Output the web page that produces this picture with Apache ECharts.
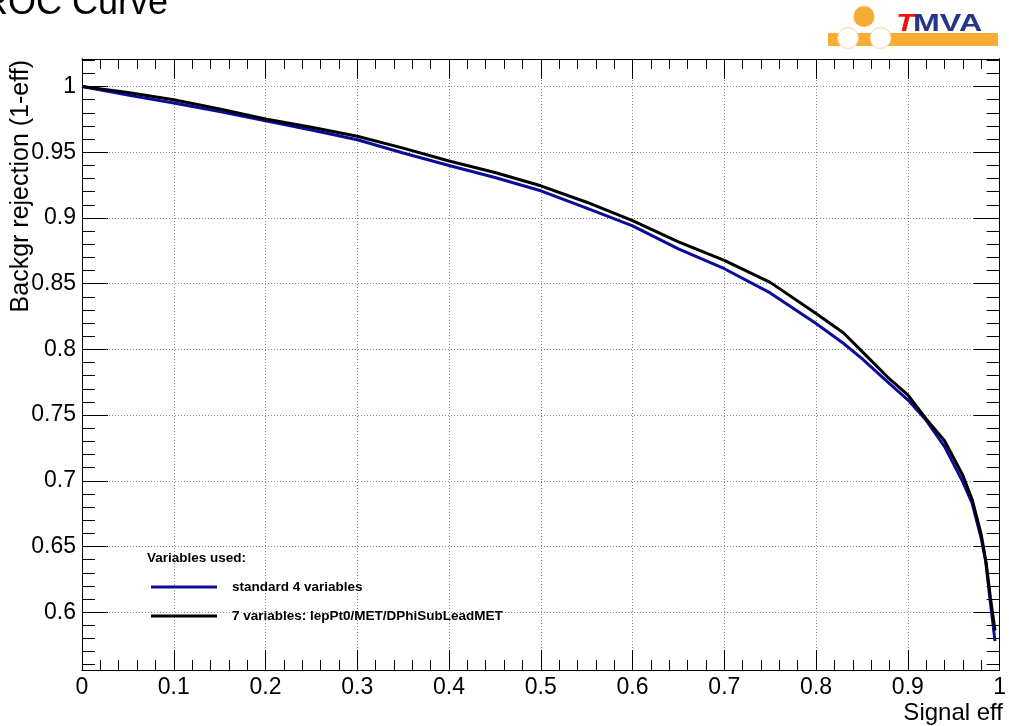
<!DOCTYPE html>
<html>
<head>
<meta charset="utf-8">
<script src="https://cdn.jsdelivr.net/npm/echarts@6/dist/echarts.min.js"></script>
<style>
  html, body { margin: 0; padding: 0; background: #fff; }
  #chart { width: 1009px; height: 726px; }
</style>
</head>
<body>
<div id="chart"></div>
<script>
// ---- data ----
const signalEff = [0, 0.05, 0.1, 0.15, 0.2, 0.25, 0.3, 0.35, 0.4, 0.45, 0.5, 0.55, 0.6, 0.65, 0.7, 0.75, 0.8, 0.83, 0.85, 0.88, 0.9, 0.92, 0.94, 0.96, 0.97, 0.98, 0.985, 0.99, 0.995];
const rejStandard4 = [1.0, 0.9935, 0.9875, 0.981, 0.974, 0.967, 0.9595, 0.9495, 0.940, 0.9308, 0.9207, 0.9075, 0.894, 0.8765, 0.8614, 0.843, 0.8197, 0.8045, 0.793, 0.774, 0.7616, 0.746, 0.726, 0.699, 0.683, 0.656, 0.638, 0.607, 0.578];
const rej7Vars = [1.0, 0.9955, 0.990, 0.983, 0.9754, 0.969, 0.9622, 0.9532, 0.9434, 0.9346, 0.9245, 0.912, 0.898, 0.8818, 0.8677, 0.851, 0.8273, 0.8125, 0.7985, 0.7775, 0.7654, 0.747, 0.7305, 0.704, 0.686, 0.659, 0.639, 0.611, 0.586];
const seriesNames = ['standard 4 variables', '7 variables: lepPt0/MET/DPhiSubLeadMET'];
const yMajorTicks = [0.6, 0.65, 0.7, 0.75, 0.8, 0.85, 0.9, 0.95, 1.0];
const yMinorTicks = [0.56, 0.57, 0.58, 0.59, 0.6, 0.61, 0.62, 0.63, 0.64, 0.65, 0.66, 0.67, 0.68, 0.69, 0.7, 0.71, 0.72, 0.73, 0.74, 0.75, 0.76, 0.77, 0.78, 0.79, 0.8, 0.81, 0.82, 0.83, 0.84, 0.85, 0.86, 0.87, 0.88, 0.89, 0.9, 0.91, 0.92, 0.93, 0.94, 0.95, 0.96, 0.97, 0.98, 0.99, 1.0, 1.01, 1.02];
const titleText = 'ROC Curve';
const xTitle = 'Signal eff';
const yTitle = 'Backgr rejection (1-eff)';
const legendHeader = 'Variables used:';

const FONT = 'Liberation Sans, Arial, Helvetica, sans-serif';
const Y_MIN = 0.556, Y_MAX = 1.021;

function pairs(xs, ys) { return xs.map((x, i) => [x, ys[i]]); }
function fmt(v) { return String(+(+v).toFixed(2)); }

const gridLine = { show: true, lineStyle: { color: '#888', type: [1, 2], width: 1 } };
const axisLineBlack = { show: true, lineStyle: { color: '#000', width: 1 } };

function yAxisCfg(pos, major, withLabels) {
  return {
    type: 'value', position: pos, min: Y_MIN, max: Y_MAX,
    axisLine: axisLineBlack,
    axisTick: { show: true, inside: true, length: major ? 26 : 13,
      customValues: major ? yMajorTicks : yMinorTicks,
      lineStyle: { color: '#000', width: 1 } },
    axisLabel: withLabels ? { show: true, customValues: yMajorTicks, formatter: fmt,
      fontSize: 23, fontFamily: FONT, color: '#000', margin: 6 } : { show: false },
    splitLine: (withLabels ? gridLine : { show: false })
  };
}

function xAxisCfg(pos, withLabels) {
  return {
    type: 'value', position: pos, min: 0, max: 1, interval: 0.1,
    axisLine: axisLineBlack,
    axisTick: { show: true, inside: true, length: 20, lineStyle: { color: '#000', width: 1 } },
    minorTick: { show: true, splitNumber: 5, length: 10, lineStyle: { color: '#000', width: 1 } },
    axisLabel: withLabels ? { show: true, formatter: fmt, fontSize: 23, fontFamily: FONT, color: '#000', margin: 6 } : { show: false },
    splitLine: withLabels ? gridLine : { show: false }
  };
}

const chart = echarts.init(document.getElementById('chart'), null, { renderer: 'canvas' });
chart.setOption({
  backgroundColor: '#fff',
  animation: false,
  grid: { left: 82, right: 6, top: 59, bottom: 56, containLabel: false },
  xAxis: [xAxisCfg('bottom', true), xAxisCfg('top', false)],
  yAxis: [yAxisCfg('left', true, true), yAxisCfg('left', false, false),
          yAxisCfg('right', true, false), yAxisCfg('right', false, false)],
  legend: {
    orient: 'vertical', left: 151, top: 580, padding: 0,
    icon: 'rect', itemWidth: 66, itemHeight: 3, itemGap: 15,
    textStyle: { fontFamily: FONT, fontWeight: 'bold', fontSize: 13.5, color: '#000', lineHeight: 14, padding: [0, 0, 0, 10] },
    data: seriesNames
  },
  series: [
    { name: seriesNames[0], type: 'line', data: pairs(signalEff, rejStandard4), showSymbol: false,
      lineStyle: { color: '#0c0c9c', width: 3 }, itemStyle: { color: '#0c0c9c' }, z: 3 },
    { name: seriesNames[1], type: 'line', data: pairs(signalEff, rej7Vars), showSymbol: false,
      lineStyle: { color: '#000', width: 3 }, itemStyle: { color: '#000' }, z: 4 }
  ],
  graphic: [
    { type: 'text', x: -18, y: -14, style: { text: titleText, font: '36px ' + FONT, fill: '#000', textVerticalAlign: 'top' } },
    { type: 'text', x: 1003, y: 713, style: { text: xTitle, font: '24px ' + FONT, fill: '#000', align: 'right', verticalAlign: 'middle' } },
    { type: 'text', x: 21, y: 60, rotation: Math.PI / 2, style: { text: yTitle, font: '25px ' + FONT, fill: '#000', align: 'right', verticalAlign: 'middle' } },
    { type: 'text', x: 147, y: 558, style: { text: legendHeader, font: 'bold 13.5px ' + FONT, fill: '#000', verticalAlign: 'middle' } },
    // TMVA logo
    { type: 'rect', shape: { x: 828, y: 33, width: 170, height: 13 }, style: { fill: '#f9ac35' } },
    { type: 'circle', shape: { cx: 864, cy: 16.5, r: 10.5 }, style: { fill: '#f9ac35' } },
    { type: 'circle', shape: { cx: 848, cy: 38, r: 10.5 }, style: { fill: '#fff', stroke: '#fcd58f', lineWidth: 1 } },
    { type: 'circle', shape: { cx: 880.5, cy: 38, r: 10.5 }, style: { fill: '#fff', stroke: '#fcd58f', lineWidth: 1 } },
    { type: 'text', x: 896, y: 25, scaleX: 1.35, style: { text: 'T', font: 'italic bold 23px ' + FONT, fill: '#f01010', verticalAlign: 'middle' } },
    { type: 'text', x: 913, y: 25, scaleX: 1.4, style: { text: 'MVA', font: 'bold 23px ' + FONT, fill: '#26358c', verticalAlign: 'middle' } }
  ]
});
</script>
</body>
</html>
